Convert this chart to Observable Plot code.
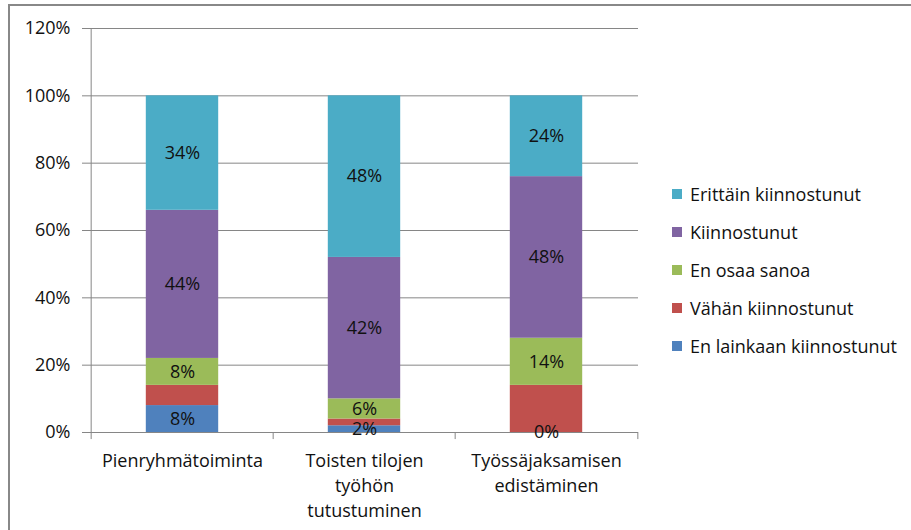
<!DOCTYPE html>
<html><head><meta charset="utf-8">
<script src="https://cdn.jsdelivr.net/npm/d3@7"></script>
<script src="https://cdn.jsdelivr.net/npm/@observablehq/plot@0.6"></script>
<style>
body{margin:0;background:#fff;font-family:"Open Sans",sans-serif;}
#wrap{position:relative;width:911px;height:530px;overflow:hidden;}
#frame{position:absolute;left:8px;top:4px;width:1000px;height:1000px;border-top:2px solid #888;border-left:2px solid #888;pointer-events:none;}
#chart{position:absolute;left:0;top:0;}
#legend{position:absolute;left:672px;top:175px;font-size:18px;color:#111;}
#legend .row{display:flex;align-items:center;height:38px;}
#legend .sw{width:10px;height:10px;margin-right:8px;}
</style></head>
<body>
<div id="wrap"><div id="frame"></div><div id="chart"></div><div id="legend"></div></div>
<script>
const categories = ["Pienryhmätoiminta", "Toisten tilojen työhön tutustuminen", "Työssäjaksamisen edistäminen"];
const categoryLabels = ["Pienryhmätoiminta", "Toisten tilojen\ntyöhön\ntutustuminen", "Työssäjaksamisen\nedistäminen"];
const series = ["En lainkaan kiinnostunut", "Vähän kiinnostunut", "En osaa sanoa", "Kiinnostunut", "Erittäin kiinnostunut"];
const enLainkaan = [0.08, 0.02, 0.00];
const vahan = [0.06, 0.02, 0.14];
const enOsaa = [0.08, 0.06, 0.14];
const kiinnostunut = [0.44, 0.42, 0.48];
const erittain = [0.34, 0.48, 0.24];
const colors = ["#4F81BD", "#C0504D", "#9BBB59", "#8064A2", "#4BACC6"];
const labelled = [true, false, true, true, true];
const yTicks = [0, 0.2, 0.4, 0.6, 0.8, 1.0, 1.2];
const legendOrder = ["Erittäin kiinnostunut", "Kiinnostunut", "En osaa sanoa", "Vähän kiinnostunut", "En lainkaan kiinnostunut"];

const seriesValues = [enLainkaan, vahan, enOsaa, kiinnostunut, erittain];
const data = [];
series.forEach((s, si) => categories.forEach((c, ci) => data.push({category: c, series: s, value: seriesValues[si][ci], labelled: labelled[si]})));

const W = 911, H = 530, mL = 90, mR = 273, mT = 28, mB = 98;
const step = (W - mL - mR) / categories.length;
const grey = "#868686";
const fmt = d3.format(".0%");
const fs = 18;

const chart = Plot.plot({
  width: W, height: H,
  marginLeft: mL, marginRight: mR, marginTop: mT, marginBottom: mB,
  style: {fontFamily: "'Open Sans', sans-serif", fontSize: fs + "px", color: "#111", background: "transparent"},
  x: {domain: categories, padding: 0, label: null},
  y: {domain: [0, 1.2], label: null},
  color: {domain: series, range: colors},
  marks: [
    Plot.gridY(yTicks, {stroke: grey, strokeOpacity: 1}),
    Plot.axisY({ticks: yTicks, tickFormat: fmt, tickSize: 8, tickPadding: 12, stroke: grey, strokeOpacity: 1, fontSize: fs, label: null}),
    Plot.barY(data, {x: "category", y: "value", z: "series", fill: "series", insetLeft: 54.8, insetRight: 54.8}),
    Plot.ruleY([0], {stroke: grey}),
    Plot.ruleX([categories[0]], {y1: 0, y2: 1.2, dx: -step / 2, stroke: grey}),
    Plot.ruleX(categories, {y1: 0, y2: -0.021, dx: -step / 2, stroke: grey}),
    Plot.ruleX([categories[categories.length - 1]], {y1: 0, y2: -0.021, dx: step / 2, stroke: grey}),
    Plot.text(data, Plot.stackY({x: "category", y: "value", z: "series", text: d => d.labelled ? fmt(d.value) : "", fill: "#111", fontSize: fs})),
    Plot.axisX({tickSize: 0, tickPadding: 17, tickFormat: d => categoryLabels[categories.indexOf(d)], lineHeight: 1.38, fontSize: fs, label: null})
  ]
});
document.getElementById("chart").appendChild(chart);

const legend = document.getElementById("legend");
legendOrder.forEach(s => {
  const row = document.createElement("div"); row.className = "row";
  const sw = document.createElement("div"); sw.className = "sw"; sw.style.background = colors[series.indexOf(s)];
  const t = document.createElement("span"); t.textContent = s;
  row.appendChild(sw); row.appendChild(t); legend.appendChild(row);
});
</script>
</body></html>
